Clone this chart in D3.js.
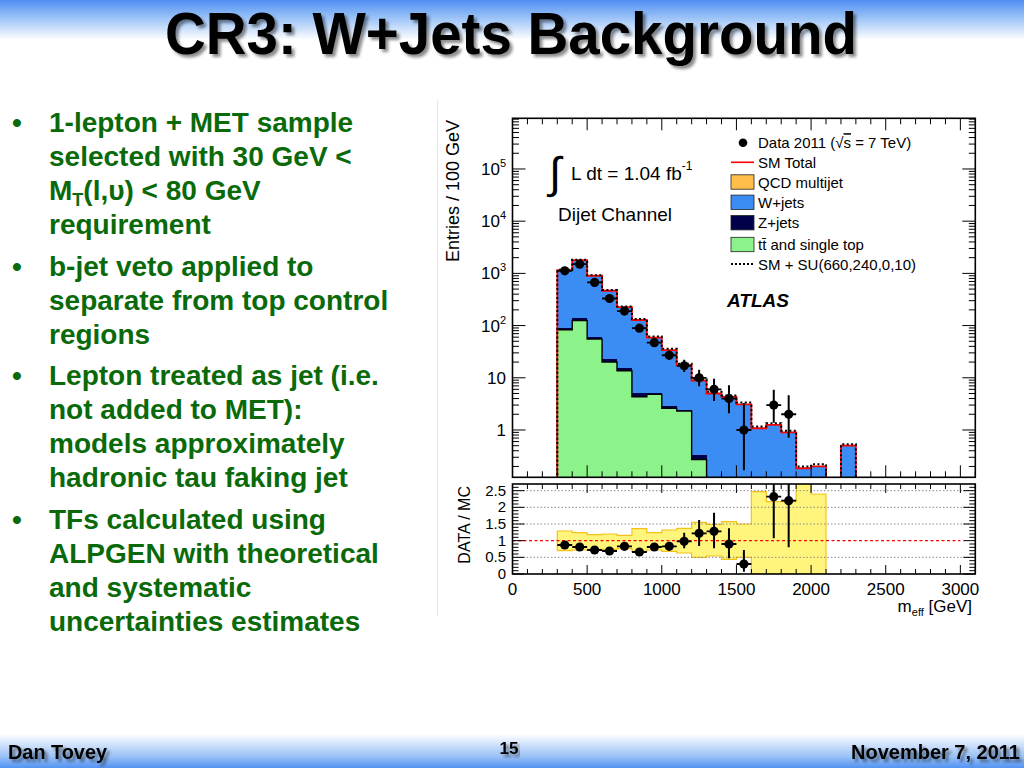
<!DOCTYPE html>
<html><head><meta charset="utf-8">
<script src="https://cdn.jsdelivr.net/npm/d3@7"></script>
<style>
body{margin:0;background:#fff}
svg{display:block}
text{font-family:"Liberation Sans",Arial,Helvetica,sans-serif}
</style>
</head><body>
<svg id="c" width="1024" height="768"></svg>
<script>
// ---------------- data ----------------
const binLo = [300,400,500,600,700,800,900,1000,1100,1200,1300,1400,1500,1600,1700,1800,1900,2000,2100,2200];
const binWidth = 100;
const ttbar  = [83,125,55,20,13.6,4.3,4.8,2.6,2.3,0.27,0,0,0,0,0,0,0,0,0,0];
const zjets  = [8,12,6,3,1.5,0.8,0.4,0.25,0.12,0.06,0,0,0,0,0,0,0,0,0,0];
const wjets  = [1059,1663,839,442,210,123,53.8,31.2,15.1,8.5,5.0,4.3,3.1,1.08,1.25,0.9,0.185,0.2,0,0.5];
const qcd    = [0,0,0,0,0,0,0,0,0,0,0,0,0,0,0,0,0,0,0,0];
const smTotal  = [1150,1800,900,465,225,128,59,34,17.5,8.8,5.0,4.3,3.1,1.08,1.25,0.9,0.185,0.2,0,0.5];
const smPlusSU = [1170,1830,920,478,232,133,62,36,18.6,9.4,5.4,4.6,3.35,1.17,1.35,0.97,0.2,0.22,0,0.53];

const dataX  = [350,450,550,650,750,850,950,1050,1150,1250,1350,1450,1550,1750,1850];
const dataN  = [1120,1500,670,330,190,89,47,27,17,10,6,4,1,3,2];
const dataLo = [1087,1461,644,312,176,80,40.2,21.9,12.9,6.9,3.6,2.1,0.17,1.37,0.71];
const dataHi = [1154,1539,696,349,204,99,54.8,33.2,22.2,14.3,9.6,7.2,3.3,5.92,4.64];

const ratioVal = [0.87,0.81,0.72,0.69,0.83,0.66,0.81,0.83,0.98,1.22,1.28,0.90,0.30,2.32,2.20];
const ratioLo  = [0.84,0.78,0.69,0.65,0.78,0.60,0.73,0.72,0.77,0.84,0.77,0.47,0.07,1.07,0.80];
const ratioHi  = [0.90,0.84,0.75,0.73,0.88,0.72,0.89,0.95,1.24,1.62,1.84,1.37,0.72,3.6,3.5];

const bandLo = [0.70,0.72,0.74,0.74,0.76,0.68,0.72,0.68,0.63,0.50,0.54,0.44,0.50,0,0,0,0,0];
const bandHi = [1.29,1.24,1.18,1.20,1.16,1.36,1.24,1.32,1.37,1.55,1.49,1.57,1.50,2.47,2.17,2.17,3.0,2.40];

const xTickVals   = [0,500,1000,1500,2000,2500,3000];
const xTickLabels = ["0","500","1000","1500","2000","2500","3000"];
const yTickVals   = [1,10,100,1000,10000,100000];
const yTickBase   = ["1","10","10","10","10","10"];
const yTickExp    = ["","","2","3","4","5"];
const rTickVals   = [0,0.5,1,1.5,2,2.5];
const rTickLabels = ["0","0.5","1","1.5","2","2.5"];

const bullets = [
  ["1-lepton + MET sample","selected with 30 GeV <","M_{T}(l,υ) < 80 GeV","requirement"],
  ["b-jet veto applied to","separate from top control","regions"],
  ["Lepton treated as jet (i.e.","not added to MET):","models approximately","hadronic tau faking jet"],
  ["TFs calculated using","ALPGEN with theoretical","and systematic","uncertainties estimates"]
];

const legendItems = [
  {kind:"dot",   label:"Data 2011"},
  {kind:"line",  label:"SM Total", color:"#ff0000"},
  {kind:"box",   label:"QCD multijet", color:"#ffbf4a"},
  {kind:"box",   label:"W+jets", color:"#3b8cf3"},
  {kind:"box",   label:"Z+jets", color:"#00004a"},
  {kind:"box",   label:"tt̄ and single top", color:"#8cf28a"},
  {kind:"dots",  label:"SM + SU(660,240,0,10)"}
];

// ---------------- layout ----------------
const X0 = 512.5, X1 = 975.3;
const MT = 118.3, MB = 477.3;   // main pad
const RT = 484, RB = 574;       // ratio pad

const svg = d3.select("#c");
const defs = svg.append("defs");

const gh = defs.append("linearGradient").attr("id","hdr").attr("x1",0).attr("y1",0).attr("x2",0).attr("y2",1);
gh.append("stop").attr("offset","0%").attr("stop-color","#4f8ef3");
gh.append("stop").attr("offset","35%").attr("stop-color","#8ab8f6");
gh.append("stop").attr("offset","100%").attr("stop-color","#ffffff");
const gf = defs.append("linearGradient").attr("id","ftr").attr("x1",0).attr("y1",0).attr("x2",0).attr("y2",1);
gf.append("stop").attr("offset","0%").attr("stop-color","#ffffff");
gf.append("stop").attr("offset","65%").attr("stop-color","#9cc3f7");
gf.append("stop").attr("offset","100%").attr("stop-color","#5393f3");

const flt = defs.append("filter").attr("id","sh").attr("x","-5%").attr("y","-20%").attr("width","110%").attr("height","150%");
flt.append("feDropShadow").attr("dx",3).attr("dy",3).attr("stdDeviation",1.6)
  .attr("flood-color","#000").attr("flood-opacity",0.45);

defs.append("clipPath").attr("id","clipM").append("rect")
  .attr("x",X0).attr("y",MT).attr("width",X1-X0).attr("height",MB-MT);
defs.append("clipPath").attr("id","clipR").append("rect")
  .attr("x",X0).attr("y",RT).attr("width",X1-X0).attr("height",RB-RT);

// header / footer
svg.append("rect").attr("x",0).attr("y",0).attr("width",1024).attr("height",40).attr("fill","url(#hdr)");
svg.append("rect").attr("x",0).attr("y",734).attr("width",1024).attr("height",34).attr("fill","url(#ftr)");

svg.append("text").attr("x",165).attr("y",54).attr("font-size",60).attr("font-weight","bold")
  .attr("textLength",692).attr("lengthAdjust","spacingAndGlyphs")
  .attr("filter","url(#sh)").attr("fill","#000").text("CR3: W+Jets Background");

svg.append("text").attr("x",8).attr("y",759).attr("font-size",20).attr("font-weight","bold")
  .attr("textLength",99).attr("lengthAdjust","spacingAndGlyphs").attr("filter","url(#sh)").text("Dan Tovey");
svg.append("text").attr("x",509).attr("y",754).attr("font-size",17).attr("font-weight","bold")
  .attr("text-anchor","middle").attr("filter","url(#sh)").text("15");
svg.append("text").attr("x",1020).attr("y",759).attr("font-size",20).attr("font-weight","bold")
  .attr("text-anchor","end").attr("filter","url(#sh)").text("November 7, 2011");

// bullets
const green = "#0a6a0a";
let by = 132;
bullets.forEach((para,pi)=>{
  if(pi>0) by += 7.5;
  svg.append("text").attr("x",12).attr("y",by).attr("font-size",28).attr("font-weight","bold")
    .attr("fill",green).text("•");
  para.forEach(line=>{
    const t = svg.append("text").attr("x",49).attr("y",by).attr("font-size",28)
      .attr("font-weight","bold").attr("fill",green);
    const m = line.match(/^(.*)_\{(.*?)\}(.*)$/);
    if(m){
      t.append("tspan").text(m[1]);
      t.append("tspan").attr("font-size",18).attr("dy",6).text(m[2]);
      t.append("tspan").attr("dy",-6).text(m[3]);
    } else t.text(line);
    by += 34;
  });
});

// plot image boundary
svg.append("line").attr("x1",437.5).attr("x2",437.5).attr("y1",100).attr("y2",616)
  .attr("stroke","#e6e6e6").attr("stroke-width",1);

// ---------------- scales ----------------
const x  = d3.scaleLinear().domain([0,3100]).range([X0,X1]);
const yM = d3.scaleLog().domain([0.124,9.35e5]).range([MB,MT]);
const yR = d3.scaleLinear().domain([0,2.7]).range([RB,RT]);

const yMv = v => v>0 ? yM(v) : MB;

// ---------------- main pad ----------------
const gm = svg.append("g").attr("clip-path","url(#clipM)");
const cum1 = ttbar.slice();
const cum2 = cum1.map((v,i)=>v+zjets[i]);
const cum3 = cum2.map((v,i)=>v+wjets[i]);
const cum4 = cum3.map((v,i)=>v+qcd[i]);
const layers = [[cum4,"#ffbf4a"],[cum3,"#3b8cf3"],[cum2,"#00004a"],[cum1,"#8cf28a"]];
layers.forEach(([vals,col])=>{
  gm.append("g").selectAll("rect").data(binLo.map((lo,i)=>({lo,v:vals[i]})).filter(d=>d.v>0))
    .join("rect")
    .attr("x",d=>x(d.lo)).attr("width",d=>x(d.lo+binWidth)-x(d.lo))
    .attr("y",d=>yM(d.v)).attr("height",d=>MB-yM(d.v))
    .attr("fill",col).attr("shape-rendering","crispEdges");
});

function stepPts(vals, ys, floor){
  const pts = [[x(binLo[0]), floor]];
  binLo.forEach((lo,i)=>{
    const yy = vals[i]>0 ? ys(vals[i]) : floor;
    pts.push([x(lo),yy]); pts.push([x(lo+binWidth),yy]);
  });
  pts.push([x(binLo[binLo.length-1]+binWidth), floor]);
  return pts;
}
const line = d3.line();
gm.append("path").attr("d",line(stepPts(ttbar,yM,MB+2))).attr("fill","none")
  .attr("stroke","#000").attr("stroke-width",1.4);
gm.append("path").attr("d",line(stepPts(smTotal,yM,MB+2))).attr("fill","none")
  .attr("stroke","#ff0000").attr("stroke-width",1.8);
gm.append("path").attr("d",line(stepPts(smPlusSU,yM,MB+2))).attr("fill","none")
  .attr("stroke","#000").attr("stroke-width",2).attr("stroke-dasharray","2,2.4");

// data points
const gd = gm.append("g");
dataX.forEach((cx,i)=>{
  gd.append("line").attr("x1",x(cx)).attr("x2",x(cx)).attr("y1",yMv(dataLo[i])).attr("y2",yM(dataHi[i]))
    .attr("stroke","#000").attr("stroke-width",2);
  gd.append("line").attr("x1",x(cx-50)).attr("x2",x(cx+50)).attr("y1",yM(dataN[i])).attr("y2",yM(dataN[i]))
    .attr("stroke","#000").attr("stroke-width",1.8);
  gd.append("circle").attr("cx",x(cx)).attr("cy",yM(dataN[i])).attr("r",4.6).attr("fill","#000");
});

// ---------------- ratio pad ----------------
const gr = svg.append("g").attr("clip-path","url(#clipR)");
gr.append("g").selectAll("rect").data(bandLo.map((lo,i)=>({b:binLo[i],lo,hi:bandHi[i]})))
  .join("rect")
  .attr("x",d=>x(d.b)).attr("width",d=>x(d.b+binWidth)-x(d.b))
  .attr("y",d=>yR(d.hi)).attr("height",d=>yR(d.lo)-yR(d.hi))
  .attr("fill","#fff57c").attr("shape-rendering","crispEdges");
function bandStep(vals){
  const pts = [];
  vals.forEach((v,i)=>{ pts.push([x(binLo[i]),yR(v)]); pts.push([x(binLo[i]+binWidth),yR(v)]); });
  return pts;
}
const nb = bandHi.length;
const outline = bandStep(bandHi).concat([[x(binLo[nb-1]+binWidth),yR(0)]]);
gr.append("path").attr("d",line([[x(binLo[0]),yR(bandLo[0])]].concat(outline))).attr("fill","none")
  .attr("stroke","#f2c21b").attr("stroke-width",1.2);
gr.append("path").attr("d",line(bandStep(bandLo))).attr("fill","none")
  .attr("stroke","#f2c21b").attr("stroke-width",1.2);

[0.5,1.5,2,2.5].forEach(v=>{
  gr.append("line").attr("x1",X0).attr("x2",X1).attr("y1",yR(v)).attr("y2",yR(v))
    .attr("stroke","#8a8a8a").attr("stroke-width",1).attr("stroke-dasharray","1.5,2");
});
gr.append("line").attr("x1",x(0)).attr("x2",x(3000)).attr("y1",yR(1)).attr("y2",yR(1))
  .attr("stroke","#ff0000").attr("stroke-width",1.4).attr("stroke-dasharray","3,2.5");

dataX.forEach((cx,i)=>{
  gr.append("line").attr("x1",x(cx)).attr("x2",x(cx)).attr("y1",yR(ratioLo[i])).attr("y2",yR(ratioHi[i]))
    .attr("stroke","#000").attr("stroke-width",2);
  gr.append("line").attr("x1",x(cx-50)).attr("x2",x(cx+50)).attr("y1",yR(ratioVal[i])).attr("y2",yR(ratioVal[i]))
    .attr("stroke","#000").attr("stroke-width",1.8);
  gr.append("circle").attr("cx",x(cx)).attr("cy",yR(ratioVal[i])).attr("r",4.6).attr("fill","#000");
});

// ---------------- frames & ticks ----------------
const ga = svg.append("g").attr("stroke","#000").attr("fill","none");
function xTicks(top,bottom,maj,min){
  d3.range(0,3101,100).forEach(v=>{
    const L = v%500===0 ? maj : min;
    ga.append("line").attr("x1",x(v)).attr("x2",x(v)).attr("y1",bottom).attr("y2",bottom-L).attr("stroke-width",1);
    ga.append("line").attr("x1",x(v)).attr("x2",x(v)).attr("y1",top).attr("y2",top+L).attr("stroke-width",1);
  });
}
xTicks(MT,MB,12,6);
xTicks(RT,RB,9,5);
yM.ticks().forEach(v=>{
  const lg = Math.log10(v);
  const L = Math.abs(lg-Math.round(lg))<1e-9 ? 13 : 6.5;
  const yy = yM(v);
  if(yy<MT||yy>MB) return;
  ga.append("line").attr("x1",X0).attr("x2",X0+L).attr("y1",yy).attr("y2",yy).attr("stroke-width",1);
  ga.append("line").attr("x1",X1).attr("x2",X1-L).attr("y1",yy).attr("y2",yy).attr("stroke-width",1);
});
d3.range(0,27).forEach(k=>{
  const v = k/10;
  const L = k%5===0 ? 12 : 6;
  ga.append("line").attr("x1",X0).attr("x2",X0+L).attr("y1",yR(v)).attr("y2",yR(v)).attr("stroke-width",1);
  ga.append("line").attr("x1",X1).attr("x2",X1-L).attr("y1",yR(v)).attr("y2",yR(v)).attr("stroke-width",1);
});
ga.append("rect").attr("x",X0).attr("y",MT).attr("width",X1-X0).attr("height",MB-MT).attr("stroke-width",1.6);
ga.append("rect").attr("x",X0).attr("y",RT).attr("width",X1-X0).attr("height",RB-RT).attr("stroke-width",1.6);

// tick labels
yTickVals.forEach((v,i)=>{
  const t = svg.append("text").attr("x",506).attr("y",yM(v)+6).attr("font-size",17)
    .attr("text-anchor","end").text(yTickBase[i]);
  if(yTickExp[i]) t.append("tspan").attr("font-size",11).attr("dy",-8).text(yTickExp[i]);
});
rTickVals.forEach((v,i)=>{
  svg.append("text").attr("x",506).attr("y",yR(v)+5).attr("font-size",15)
    .attr("text-anchor","end").text(rTickLabels[i]);
});
xTickVals.forEach((v,i)=>{
  svg.append("text").attr("x",x(v)).attr("y",595).attr("font-size",17)
    .attr("text-anchor","middle").text(xTickLabels[i]);
});

// axis titles
svg.append("text").attr("transform","translate(459,120) rotate(-90)").attr("font-size",18)
  .attr("text-anchor","end").text("Entries / 100 GeV");
svg.append("text").attr("transform","translate(470,486) rotate(-90)").attr("font-size",16)
  .attr("text-anchor","end").text("DATA / MC");
const xt = svg.append("text").attr("x",972).attr("y",612).attr("font-size",17).attr("text-anchor","end");
xt.append("tspan").text("m");
xt.append("tspan").attr("font-size",11).attr("dy",4).text("eff");
xt.append("tspan").attr("dy",-4).text(" [GeV]");

// annotations
svg.append("text").attr("x",549).attr("y",188).attr("font-size",44).attr("font-family","DejaVu Sans").text("∫");
const lt = svg.append("text").attr("x",571).attr("y",180).attr("font-size",19);
lt.append("tspan").text("L dt = 1.04 fb");
lt.append("tspan").attr("font-size",12).attr("dy",-10).text("-1");
svg.append("text").attr("x",558).attr("y",221).attr("font-size",19).text("Dijet Channel");
svg.append("text").attr("x",727).attr("y",307).attr("font-size",19).attr("font-weight","bold")
  .attr("font-style","italic").text("ATLAS");

// legend
const lx0 = 731, lx1 = 754, ltx = 758;
const rowY = [142.7,162.3,182,202.3,222.7,244.5,264];
legendItems.forEach((it,i)=>{
  const cy = rowY[i];
  if(it.kind==="dot"){
    svg.append("circle").attr("cx",743).attr("cy",cy).attr("r",4.3).attr("fill","#000");
    const t = svg.append("text").attr("x",ltx).attr("y",cy+5.5).attr("font-size",15);
    t.append("tspan").text(it.label+" (√");
    t.append("tspan").attr("text-decoration","overline").style("text-decoration","overline").text("s");
    t.append("tspan").text(" = 7 TeV)");
    return;
  }
  if(it.kind==="line"){
    svg.append("line").attr("x1",lx0).attr("x2",lx1).attr("y1",cy).attr("y2",cy)
      .attr("stroke",it.color).attr("stroke-width",1.6);
  } else if(it.kind==="box"){
    svg.append("rect").attr("x",lx0).attr("y",cy-7.2).attr("width",lx1-lx0).attr("height",14.4)
      .attr("fill",it.color).attr("stroke","#222").attr("stroke-width",0.8);
  } else {
    svg.append("line").attr("x1",lx0).attr("x2",lx1).attr("y1",cy).attr("y2",cy)
      .attr("stroke","#000").attr("stroke-width",2.2).attr("stroke-dasharray","2,2");
  }
  svg.append("text").attr("x",ltx).attr("y",cy+5.5).attr("font-size",15).text(it.label);
});
</script>
</body></html>
